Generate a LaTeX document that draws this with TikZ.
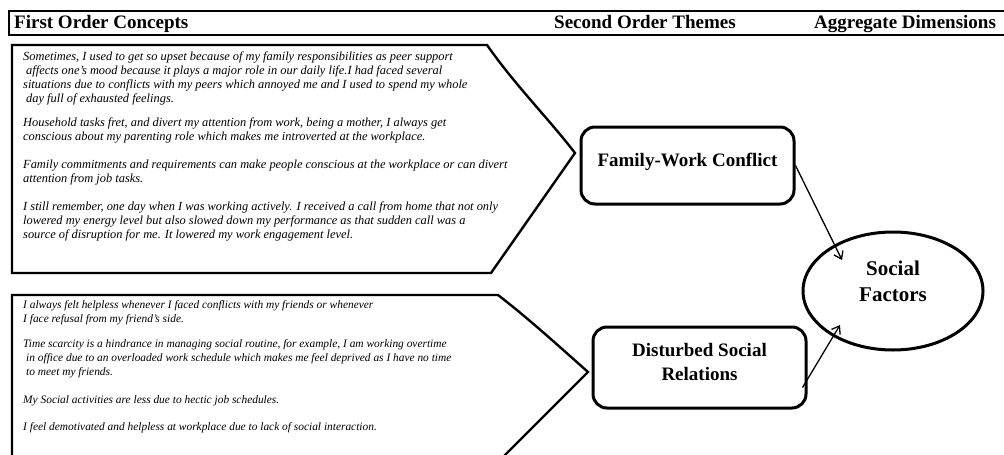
\documentclass[tikz,border=0pt]{standalone}
\usepackage{fontspec}
\setmainfont{Liberation Serif}
\usetikzlibrary{arrows.meta,shapes.geometric,calc}
\begin{document}
\begin{tikzpicture}[x=1pt,y=-1pt,
  hdr/.style={font=\fontsize{19}{22}\selectfont\bfseries, anchor=base west, inner sep=0pt},
  quote/.style={anchor=base west, align=left, inner sep=0pt},
  callout/.style={draw, line width=2.4pt, line join=miter},
  theme/.style={draw, line width=3pt, rounded corners=14pt, minimum width=213pt, font=\fontsize{19}{23.3}\selectfont\bfseries, align=center, inner sep=0pt},
  dim/.style={draw, ellipse, line width=3pt, minimum width=180pt, minimum height=118pt, font=\fontsize{21}{25.7}\selectfont\bfseries, align=center, inner sep=0pt},
  link/.style={line width=1.3pt, -{Straight Barb[length=7pt,width=10pt]}}
]
\path[use as bounding box, clip] (0,0) rectangle (1004,455);

% header band
\draw[line width=1.4pt] (1010,11) -- (9,11) -- (9,35) -- (1010,35);
\node[hdr] (h1) at (14,28) {First Order Concepts};
\node[hdr] (h2) at (554,28) {Second Order Themes};
\node[hdr] (h3) at (814,28) {Aggregate Dimensions};

% callout shapes
\draw[callout] (12,45) -- (487,45) .. controls (515,85) and (548,118) .. (575,153) -- (491,273) -- (12,273) -- cycle;
\draw[callout] (12,295) -- (498,295) .. controls (528,318) and (562,349) .. (588,372) -- (500,460) -- (12,460) -- cycle;

% first order concepts (anchor = baseline of the last line)
\node[quote, font=\fontsize{12.4}{14}\selectfont\itshape] (q1) at (23,238) {Sometimes, I used to get so upset because of my family responsibilities as peer support\\
\hspace*{3pt}affects one’s mood because it plays a major role in our daily life.I had faced several\\
situations due to conflicts with my peers which annoyed me and I used to spend my whole\\
\hspace*{3pt}day full of exhausted feelings.\\[10pt]
Household tasks fret, and divert my attention from work, being a mother, I always get\\
conscious about my parenting role which makes me introverted at the workplace.\\[14pt]
Family commitments and requirements can make people conscious at the workplace or can divert\\
attention from job tasks.\\[14pt]
I still remember, one day when I was working actively. I received a call from home that not only\\
lowered my energy level but also slowed down my performance as that sudden call was a\\
source of disruption for me. It lowered my work engagement level.};

\node[quote, font=\fontsize{11.4}{14}\selectfont\itshape] (q2) at (23,430) {I always felt helpless whenever I faced conflicts with my friends or whenever\\
I face refusal from my friend’s side.\\[11pt]
Time scarcity is a hindrance in managing social routine, for example, I am working overtime\\
\hspace*{3pt}in office due to an overloaded work schedule which makes me feel deprived as I have no time\\
\hspace*{3pt}to meet my friends.\\[14pt]
My Social activities are less due to hectic job schedules.\\[13pt]
I feel demotivated and helpless at workplace due to lack of social interaction.};

% second order themes
\node[theme, minimum height=77pt, text height=13pt, text depth=11.6pt] (fwc) at (687.5,165.5) {Family-Work Conflict};
\node[theme, minimum height=81pt, text depth=11.3pt] (dsr) at (699.5,367.5) {Disturbed Social\\Relations};

% aggregate dimension
\node[dim, text depth=20pt] (sf) at (893,291) {Social\\Factors};

% links
\draw[link] (fwc.east) -- ($(sf.center)+(-51,-31)$);
\draw[link] ($(dsr.center)+(103,20)$) -- ($(sf.center)+(-53,34)$);
\end{tikzpicture}
\end{document}
